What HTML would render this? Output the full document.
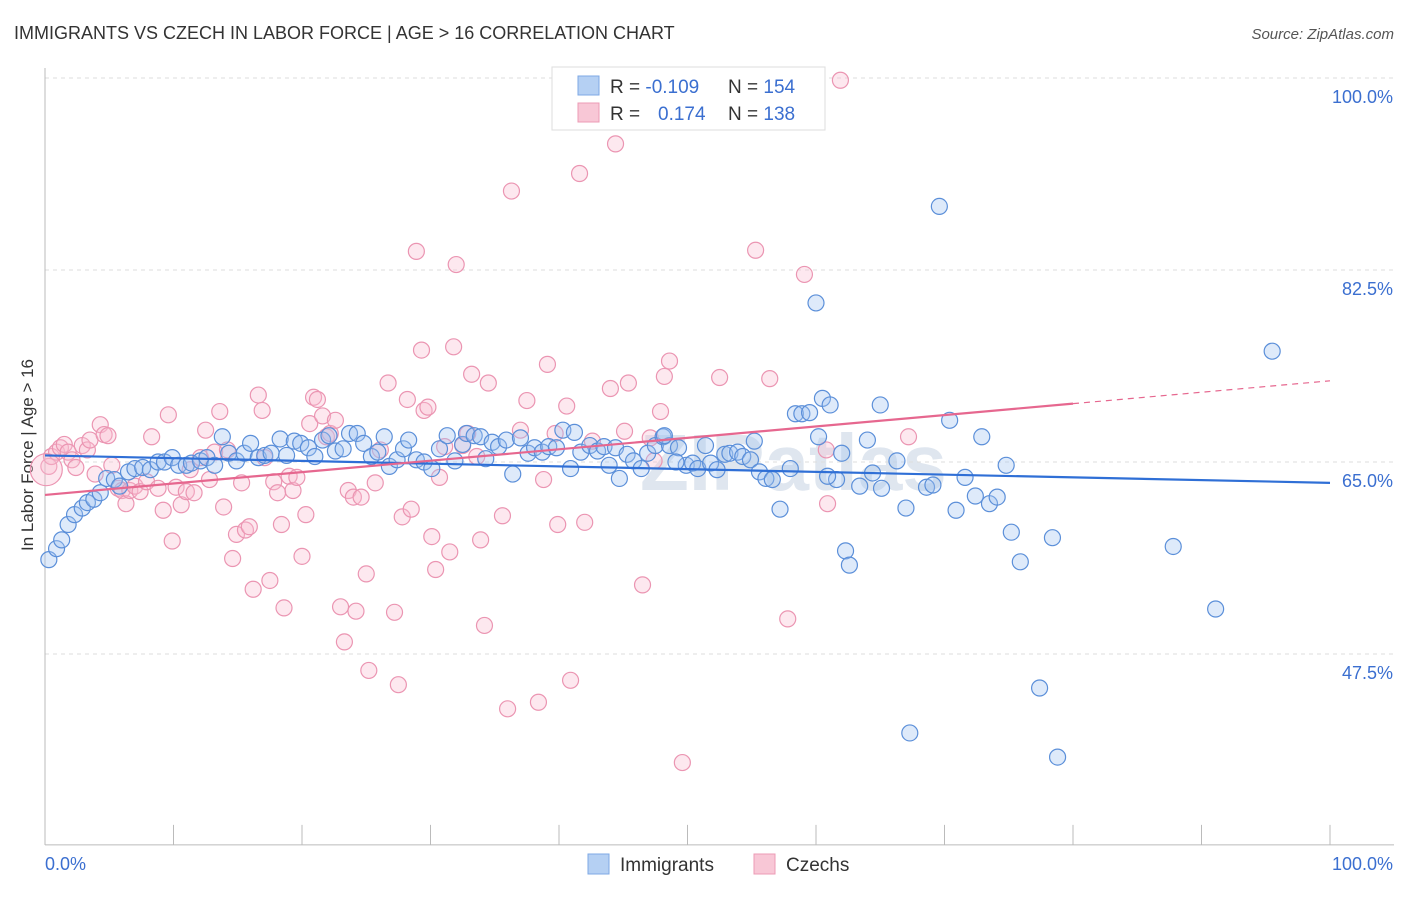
<!DOCTYPE html>
<html><head><meta charset="utf-8"><style>
body{margin:0;background:#fff;font-family:"Liberation Sans",sans-serif;}
svg text{font-family:"Liberation Sans",sans-serif;}
</style></head><body>
<svg id="chart" width="1406" height="892" xmlns="http://www.w3.org/2000/svg">
<text x="14" y="39" font-size="18" fill="#333">IMMIGRANTS VS CZECH IN LABOR FORCE | AGE &gt; 16 CORRELATION CHART</text>
<text x="1394" y="39" font-size="15" fill="#555" font-style="italic" text-anchor="end">Source: ZipAtlas.com</text>
<text x="33" y="455" font-size="17" fill="#333" text-anchor="middle" transform="rotate(-90 33 455)">In Labor Force | Age &gt; 16</text>
<text x="640" y="490" font-size="80" fill="#dfe6ef" font-weight="bold" font-family="Liberation Serif">ZIPatlas</text>
<g id="grid"></g><g id="axes"></g><g id="pts"></g><g id="trends"></g>
<g>
<rect x="552" y="67" width="273" height="63" fill="#fff" stroke="#ddd"/>
<rect x="578" y="76" width="21" height="19" fill="#b5d0f3" stroke="#7ea8e4"/>
<rect x="578" y="103" width="21" height="19" fill="#f8c7d6" stroke="#ec9bb5"/>
<text x="610" y="93" font-size="19" fill="#333">R = <tspan fill="#3b6fd0">-0.109</tspan></text>
<text x="728" y="93" font-size="19" fill="#333">N = <tspan fill="#3b6fd0">154</tspan></text>
<text x="610" y="120" font-size="19" fill="#333">R = <tspan fill="#3b6fd0" x="658">0.174</tspan></text>
<text x="728" y="120" font-size="19" fill="#333">N = <tspan fill="#3b6fd0">138</tspan></text>
</g>
<g>
<rect x="588" y="854" width="21" height="20" fill="#b5d0f3" stroke="#7ea8e4"/>
<text x="620" y="871" font-size="19" fill="#333">Immigrants</text>
<rect x="754" y="854" width="21" height="20" fill="#f8c7d6" stroke="#ec9bb5"/>
<text x="786" y="871" font-size="19" fill="#333">Czechs</text>
</g>
</svg>
<script>
const yTicks=[47.5,65,82.5,100];
const yTickLabels=["47.5%","65.0%","82.5%","100.0%"];
const xTickCount=10;
const xLabels=["0.0%","100.0%"];
const blueX=[0.3,0.9,1.3,1.8,2.3,2.9,3.3,3.8,4.3,4.8,5.4,5.8,6.5,7.0,7.6,8.2,8.8,9.3,9.9,10.4,11.0,11.4,12.1,12.6,13.2,13.8,14.3,14.9,15.5,16.0,16.6,17.1,17.6,18.3,18.8,19.4,19.9,20.5,21.0,21.6,22.1,22.6,23.2,23.7,24.3,24.8,25.4,25.9,26.4,26.8,27.4,27.9,28.3,28.9,29.5,30.1,30.7,31.3,31.9,32.5,32.8,33.4,33.9,34.3,34.8,35.3,35.9,36.4,37.0,37.6,38.1,38.7,39.2,39.8,40.3,40.9,41.2,41.7,42.4,43.0,43.5,43.9,44.4,44.7,45.3,45.8,46.4,46.9,47.5,48.1,48.6,49.3,49.9,50.4,50.8,51.4,51.8,52.3,52.9,53.3,53.9,54.3,54.9,55.2,55.6,56.1,56.6,57.2,58.0,58.4,58.9,59.5,60.0,60.5,61.1,61.6,62.3,62.6,63.4,64.0,64.4,65.0,65.1,66.3,67.0,68.6,69.1,69.6,70.4,70.9,71.6,72.4,72.9,73.5,74.1,74.8,75.2,75.9,77.4,78.4,78.8,87.8,91.1,95.5,67.3,62.0,60.9,49.1,60.2,48.2];
const blueY=[56.1,57.1,57.9,59.3,60.2,60.8,61.3,61.6,62.2,63.5,63.4,62.8,64.1,64.4,64.5,64.3,65.0,65.0,65.4,64.7,64.7,64.9,65.1,65.4,64.7,67.3,65.8,65.1,65.8,66.7,65.4,65.6,65.8,67.1,65.6,66.9,66.7,66.3,65.5,67.0,67.4,66.0,66.2,67.6,67.6,66.7,65.5,65.9,67.3,64.6,65.2,66.2,67.0,65.2,65.0,64.4,66.2,67.4,65.1,66.6,67.6,67.4,67.3,65.3,66.8,66.4,67.0,63.9,67.2,65.8,66.3,65.9,66.4,66.3,67.9,64.4,67.7,65.9,66.5,66.0,66.4,64.7,66.3,63.5,65.7,65.1,64.4,65.8,66.5,67.3,66.5,66.3,64.7,64.9,64.4,66.5,64.9,64.3,65.7,65.8,65.9,65.5,65.2,66.9,64.1,63.5,63.4,60.7,64.4,69.4,69.4,69.5,79.5,70.8,70.2,63.4,56.9,55.6,62.8,67.0,64.0,70.2,62.6,65.1,60.8,62.7,62.9,88.3,68.8,60.6,63.6,61.9,67.3,61.2,61.8,64.7,58.6,55.9,44.4,58.1,38.1,57.3,51.6,75.1,40.3,65.8,63.7,65.0,67.3,67.4];
const pinkX=[0.3,0.5,0.9,1.2,1.5,1.8,2.1,2.4,2.9,3.3,3.5,3.9,4.3,4.6,4.9,5.2,5.7,6.0,6.3,6.6,7.0,7.4,7.9,8.3,8.8,9.2,9.6,9.9,10.2,10.6,11.0,11.3,11.6,12.1,12.5,12.8,13.2,13.6,13.9,14.2,14.6,14.9,15.3,15.6,15.9,16.2,16.6,16.9,17.1,17.5,17.8,18.1,18.4,18.6,19.0,19.3,19.6,20.0,20.3,20.6,20.9,21.2,21.6,21.9,22.2,22.6,23.0,23.3,23.6,24.0,24.2,24.6,25.0,25.2,25.7,26.1,26.7,27.2,27.5,27.8,28.2,28.5,28.9,29.3,29.5,29.8,30.1,30.4,30.7,31.1,31.5,31.8,32.0,32.5,32.9,33.2,33.6,33.9,34.2,34.5,35.6,36.0,36.3,37.0,37.5,38.4,38.8,39.1,39.7,39.9,40.6,40.9,41.6,42.0,42.6,44.0,44.4,45.1,45.4,46.5,47.1,47.4,47.9,48.2,48.6,49.6,52.5,55.3,56.4,57.8,59.1,60.8,60.9,61.9,67.2,0.1];
const pinkY=[64.6,65.5,65.9,66.3,66.6,65.9,65.2,64.5,66.5,66.1,67.0,63.9,68.4,67.5,67.4,64.7,62.6,62.4,61.2,62.4,62.8,62.3,63.2,67.3,62.6,60.6,69.3,57.8,62.7,61.1,62.3,64.3,62.2,65.4,67.9,63.4,65.9,69.6,60.9,66.1,56.2,58.4,63.1,58.8,59.1,53.4,71.1,69.7,65.4,54.2,63.2,62.2,59.3,51.7,63.7,62.4,63.6,56.4,60.2,68.5,70.9,70.7,69.2,67.3,67.6,68.8,51.8,48.6,62.4,61.8,51.4,61.8,54.8,46.0,63.1,66.1,72.2,51.3,44.7,60.0,70.7,60.7,84.2,75.2,69.7,70.0,58.2,55.2,63.6,66.4,56.8,75.5,83.0,66.5,67.6,73.0,65.5,57.9,50.1,72.2,60.1,42.5,89.7,67.9,70.6,43.1,63.4,73.9,67.6,59.3,70.1,45.1,91.3,59.5,66.9,71.7,94.0,67.8,72.2,53.8,67.2,65.1,69.6,72.8,74.2,37.6,72.7,84.3,72.6,50.7,82.1,66.1,61.2,99.8,67.3,64.3];
const blueTrend=[65.6,63.1];
const pinkTrend=[62.0,72.4];
const pinkSolidEnd=80;

const NS="http://www.w3.org/2000/svg";
const X0=45,X1=1330;
const xs=v=>X0+(X1-X0)*v/100;
const ys=v=>462-(v-65)*10.97;
function mk(tag,attrs,parent){const e=document.createElementNS(NS,tag);for(const k in attrs)e.setAttribute(k,attrs[k]);parent.appendChild(e);return e;}
const grid=document.getElementById('grid'),axes=document.getElementById('axes'),pts=document.getElementById('pts'),tr=document.getElementById('trends');
yTicks.forEach((t,i)=>{
  const l=mk('line',{x1:X0,x2:1394,y1:ys(t),y2:ys(t),stroke:'#ddd','stroke-dasharray':'4 4'},grid);
  
  
  const tx=mk('text',{x:1393,y:ys(t)+25,'font-size':18,fill:'#3b6fd0','text-anchor':'end'},grid);
  tx.textContent=yTickLabels[i];
  
  
});
const yBottom=ys(30.1);
const ax=mk('line',{x1:X0,x2:1394,y1:yBottom,y2:yBottom,stroke:'#bbb'},axes);


const ay=mk('line',{x1:X0,x2:X0,y1:68,y2:yBottom,stroke:'#bbb'},axes);


for(let i=0;i<=xTickCount;i++){
  const x=xs(i*100/xTickCount);
  const t=mk('line',{x1:x,x2:x,y1:yBottom-20,y2:yBottom,stroke:'#bbb'},axes);
  
  
}
const l0=mk('text',{x:45,y:870,'font-size':18,fill:'#3b6fd0'},axes);l0.textContent=xLabels[0];


const l1=mk('text',{x:1393,y:870,'font-size':18,fill:'#3b6fd0','text-anchor':'end'},axes);l1.textContent=xLabels[1];


pinkX.forEach((v,i)=>{
  const c=mk('circle',{cx:xs(v),cy:ys(pinkY[i]),r:i===pinkX.length-1?16:8,fill:'rgba(248,190,210,0.35)',stroke:'#eb95b2','stroke-width':1.2},pts);
  
  
});
blueX.forEach((v,i)=>{
  const c=mk('circle',{cx:xs(v),cy:ys(blueY[i]),r:8,fill:'rgba(160,195,240,0.35)',stroke:'#5b8fd9','stroke-width':1.2},pts);
  
  
});
const bt=mk('line',{x1:xs(0),y1:ys(blueTrend[0]),x2:xs(100),y2:ys(blueTrend[1]),stroke:'#2f6fd6','stroke-width':2.2},tr);


const pm=pinkTrend[0]+(pinkTrend[1]-pinkTrend[0])*pinkSolidEnd/100;
const pt=mk('line',{x1:xs(0),y1:ys(pinkTrend[0]),x2:xs(pinkSolidEnd),y2:ys(pm),stroke:'#e6678f','stroke-width':2.2},tr);


const pd=mk('line',{x1:xs(pinkSolidEnd),y1:ys(pm),x2:xs(100),y2:ys(pinkTrend[1]),stroke:'#e6678f','stroke-width':1.2,'stroke-dasharray':'6 5'},tr);


</script>
</body></html>
